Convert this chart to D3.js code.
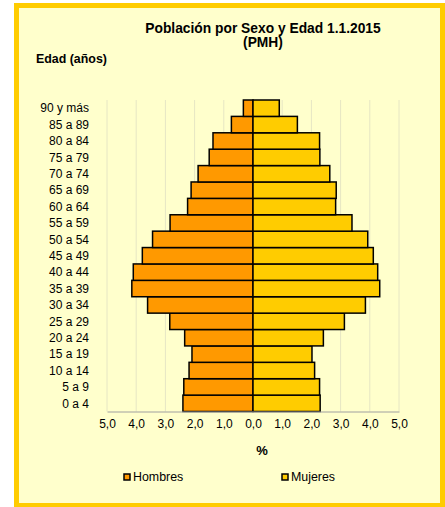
<!DOCTYPE html>
<html>
<head>
<meta charset="utf-8">
<script src="https://cdn.jsdelivr.net/npm/d3@7"></script>
<style>
  body { margin: 0; background: #fff; }
  svg { display: block; font-family: "Liberation Sans", Arial, sans-serif; }
</style>
</head>
<body>
<div id="chart"></div>
<script>
var width = 445;
var height = 507;

// age groups, bottom to top
var edades = ["0 a 4", "5 a 9", "10 a 14", "15 a 19", "20 a 24", "25 a 29", "30 a 34",
              "35 a 39", "40 a 44", "45 a 49", "50 a 54", "55 a 59", "60 a 64",
              "65 a 69", "70 a 74", "75 a 79", "80 a 84", "85 a 89", "90 y más"];
var hombres = [2.40, 2.37, 2.19, 2.09, 2.34, 2.85, 3.61, 4.15, 4.10, 3.79, 3.44, 2.84, 2.24,
               2.12, 1.88, 1.50, 1.37, 0.74, 0.33];
var mujeres = [2.30, 2.28, 2.11, 2.02, 2.41, 3.13, 3.85, 4.34, 4.27, 4.12, 3.93, 3.39, 2.83,
               2.85, 2.63, 2.29, 2.28, 1.52, 0.90];
var ticks = [-5, -4, -3, -2, -1, 0, 1, 2, 3, 4, 5];

var data = edades.map(function(e, i) {
  return { edad: e, h: hombres[i], m: mujeres[i] };
});

var svg = d3.select("#chart").append("svg")
  .attr("width", width)
  .attr("height", height);

// frame
svg.append("rect")
  .attr("x", 16.5).attr("y", 5.5)
  .attr("width", 426).attr("height", 500)
  .attr("fill", "#ffffcc")
  .attr("stroke", "#ffcc00")
  .attr("stroke-width", 5);

var xScale = d3.scaleLinear().domain([-5, 5]).range([107, 399]);
var yScale = d3.scaleBand().domain(edades.slice().reverse()).range([100, 411.5]).padding(0);

// gridlines
svg.append("g").selectAll("line")
  .data(ticks)
  .enter().append("line")
  .attr("x1", function(d) { return xScale(d); })
  .attr("x2", function(d) { return xScale(d); })
  .attr("y1", 100).attr("y2", 411.5)
  .attr("stroke", "#e6e6c4")
  .attr("stroke-width", 1);

// bars
var rows = svg.append("g").selectAll("g")
  .data(data)
  .enter().append("g");

rows.append("rect")
  .attr("x", function(d) { return xScale(-d.h); })
  .attr("y", function(d) { return yScale(d.edad); })
  .attr("width", function(d) { return xScale(0) - xScale(-d.h); })
  .attr("height", yScale.bandwidth())
  .attr("fill", "#ff9900")
  .attr("stroke", "#000")
  .attr("stroke-width", 1.5);

rows.append("rect")
  .attr("x", xScale(0))
  .attr("y", function(d) { return yScale(d.edad); })
  .attr("width", function(d) { return xScale(d.m) - xScale(0); })
  .attr("height", yScale.bandwidth())
  .attr("fill", "#ffcc00")
  .attr("stroke", "#000")
  .attr("stroke-width", 1.5);

// x axis
var xAxis = d3.axisBottom(xScale)
  .tickValues(ticks)
  .tickSize(0)
  .tickPadding(8)
  .tickFormat(function(d) { return d3.format(".1f")(Math.abs(d)).replace(".", ","); });

var gx = svg.append("g")
  .attr("transform", "translate(0," + 411.5 + ")")
  .call(xAxis);
gx.select(".domain").attr("stroke", "#a0a0a0");
gx.selectAll("text")
  .attr("font-size", 12)
  .attr("font-family", "Liberation Sans, Arial, sans-serif")
  .attr("fill", "#000");

// y labels
svg.append("g").selectAll("text")
  .data(edades)
  .enter().append("text")
  .attr("x", 89)
  .attr("y", function(d) { return yScale(d) + yScale.bandwidth() / 2; })
  .attr("dy", "0.35em")
  .attr("text-anchor", "end")
  .attr("font-size", 12)
  .attr("fill", "#000")
  .text(function(d) { return d; });

// titles
svg.append("text")
  .attr("x", 263).attr("y", 33)
  .attr("text-anchor", "middle")
  .attr("font-size", 13.8).attr("font-weight", "bold")
  .text("Población por Sexo y Edad 1.1.2015");
svg.append("text")
  .attr("x", 263).attr("y", 47)
  .attr("text-anchor", "middle")
  .attr("font-size", 13.8).attr("font-weight", "bold")
  .text("(PMH)");
svg.append("text")
  .attr("x", 36).attr("y", 63)
  .attr("font-size", 12.4).attr("font-weight", "bold")
  .text("Edad (años)");
svg.append("text")
  .attr("x", 262).attr("y", 455)
  .attr("text-anchor", "middle")
  .attr("font-size", 13).attr("font-weight", "bold")
  .text("%");

// legend
var legend = [{ name: "Hombres", color: "#ff9900", x: 124 }, { name: "Mujeres", color: "#ffcc00", x: 282 }];
var lg = svg.append("g").selectAll("g")
  .data(legend)
  .enter().append("g")
  .attr("transform", function(d) { return "translate(" + d.x + ",474)"; });
lg.append("rect")
  .attr("width", 6).attr("height", 6)
  .attr("fill", function(d) { return d.color; })
  .attr("stroke", "#000").attr("stroke-width", 1.5);
lg.append("text")
  .attr("x", 9).attr("y", 7)
  .attr("font-size", 12.4)
  .text(function(d) { return d.name; });
</script>
</body>
</html>
